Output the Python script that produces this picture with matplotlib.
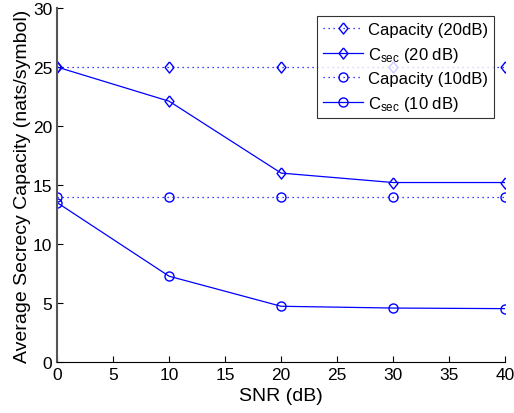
import numpy as np
import matplotlib.pyplot as plt

plt.rcParams['font.family'] = ['Liberation Sans', 'DejaVu Sans']
plt.rcParams['mathtext.default'] = 'regular'

# SNR values and capacities (nats/symbol)
snr = [0, 10, 20, 30, 40]
cap_20 = [25, 25, 25, 25, 25]
csec_20 = [25.0, 22.1, 16.0, 15.2, 15.2]
cap_10 = [14, 14, 14, 14, 14]
csec_10 = [13.5, 7.25, 4.7, 4.55, 4.5]

# matlab-style diamond, a bit taller than wide
diamond = [(0, 1), (0.8, 0), (0, -1), (-0.8, 0), (0, 1)]
dots = (1, 3)

fig = plt.figure(figsize=(5.14, 4.14), dpi=100)
ax = fig.add_axes([0.111, 0.124, 0.872, 0.854])

ax.plot(snr, cap_20, color='blue', dashes=dots, marker=diamond, mfc='none', ms=8, lw=0.9, label='Capacity (20dB)')
ax.plot(snr, csec_20, '-', color='blue', marker=diamond, mfc='none', ms=8, lw=0.9, label=r'C$_{sec}$ (20 dB)')
ax.plot(snr, cap_10, color='blue', dashes=dots, marker='o', mfc='none', ms=6.5, lw=0.9, label='Capacity (10dB)')
ax.plot(snr, csec_10, '-', color='blue', marker='o', mfc='none', ms=6.5, lw=0.9, label=r'C$_{sec}$ (10 dB)')

ax.set_xlim(0, 40)
ax.set_ylim(0, 30)
ax.set_xticks(np.arange(0, 41, 5))
ax.set_yticks(np.arange(0, 31, 5))
ax.tick_params(direction='in', labelsize=12.5, length=4, width=0.8)
for s in ['top', 'right']:
    ax.spines[s].set_visible(False)
ax.spines['left'].set_color('#555555')
ax.spines['left'].set_linewidth(1.5)
ax.spines['bottom'].set_linewidth(0.8)

ax.set_xlabel('SNR (dB)', fontsize=14, labelpad=4)
ax.set_ylabel('Average Secrecy Capacity (nats/symbol)', fontsize=14, labelpad=1)

leg = ax.legend(loc='upper right', bbox_to_anchor=(0.975, 0.977), fontsize=12,
                frameon=True, fancybox=False, edgecolor='black', handlelength=2.4,
                borderpad=0.35, labelspacing=0.45, handletextpad=0.3, borderaxespad=0)
leg.get_frame().set_linewidth(0.8)

fig.savefig('out.png', dpi=100)
